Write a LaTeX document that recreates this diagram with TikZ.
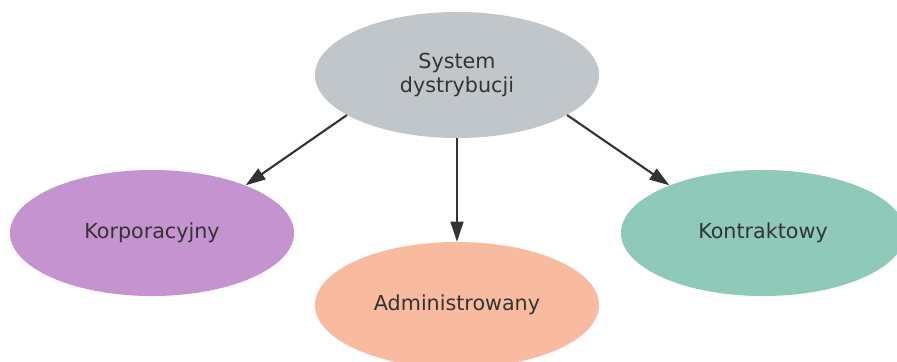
\documentclass[tikz,border=0pt]{standalone}
\usepackage{fontspec}
\setmainfont{DejaVu Sans}
\usepackage{xcolor}
\usetikzlibrary{shapes.geometric, arrows.meta}

\definecolor{sysgray}{HTML}{C1C6CA}
\definecolor{korpo}{HTML}{C693D1}
\definecolor{admin}{HTML}{F9BBA0}
\definecolor{kontr}{HTML}{8FC9B9}
\definecolor{ink}{HTML}{333333}

\begin{document}
\begin{tikzpicture}[
  x=0.025cm, y=-0.025cm,
  font=\fontsize{14.7pt}{17.7pt}\selectfont,
  oval/.style={ellipse, minimum width=7.1cm, minimum height=3.15cm,
               inner sep=0pt, align=center, text=ink},
  arr/.style={-{Stealth[length=0.5cm, width=0.32cm, inset=0pt]},
              line width=1.5pt, draw=ink}
]
\useasboundingbox (0,0) rectangle (897,362);
\node[oval, fill=sysgray] (sys) at (457,75) {System\\dystrybucji};
\node[oval, fill=korpo] (korp) at (152,233) {Korporacyjny};
\node[oval, fill=admin] (adm) at (457,305) {Administrowany};
\node[oval, fill=kontr] (kont) at (763,233) {Kontraktowy};
\draw[arr] (sys.200) -- (korp.27);
\draw[arr] (sys) -- (adm);
\draw[arr] (sys.-20) -- (kont.153);
\end{tikzpicture}
\end{document}
